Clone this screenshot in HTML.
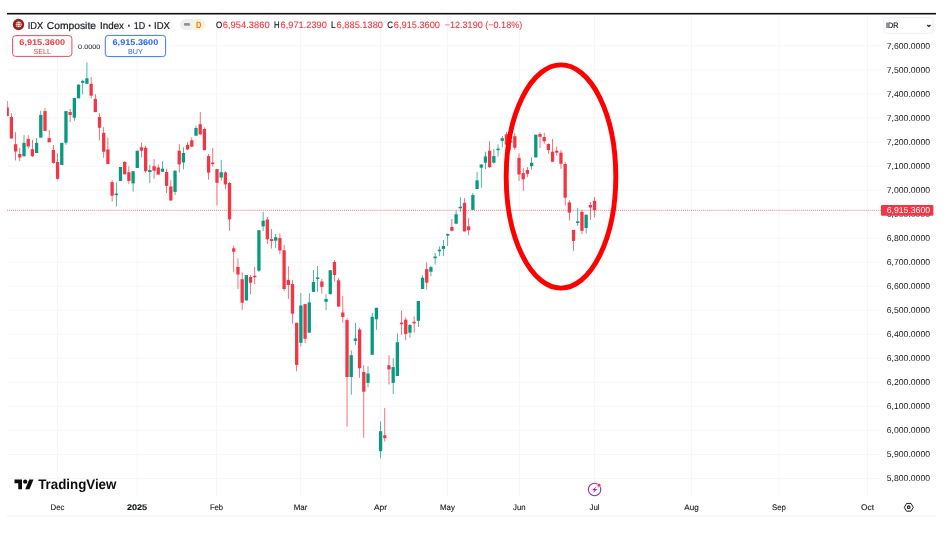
<!DOCTYPE html>
<html lang="en"><head><meta charset="utf-8"><title>IDX Composite Index chart</title>
<style>
html,body{margin:0;padding:0;background:#fff;}
body{width:949px;height:533px;overflow:hidden;position:relative;font-family:"Liberation Sans",sans-serif;color:#131722;}
#chart{position:absolute;left:0;top:0;width:949px;height:533px;}
svg text{font-family:"Liberation Sans",sans-serif;text-rendering:geometricPrecision;}
</style></head><body>
<svg id="chart" width="949" height="533" viewBox="0 0 949 533">

<g stroke="#f6f6f7" stroke-width="1" fill="none">
<line x1="7" x2="880" y1="45.90" y2="45.90"/>
<line x1="7" x2="880" y1="69.93" y2="69.93"/>
<line x1="7" x2="880" y1="93.96" y2="93.96"/>
<line x1="7" x2="880" y1="117.99" y2="117.99"/>
<line x1="7" x2="880" y1="142.02" y2="142.02"/>
<line x1="7" x2="880" y1="166.05" y2="166.05"/>
<line x1="7" x2="880" y1="190.08" y2="190.08"/>
<line x1="7" x2="880" y1="214.11" y2="214.11"/>
<line x1="7" x2="880" y1="238.14" y2="238.14"/>
<line x1="7" x2="880" y1="262.17" y2="262.17"/>
<line x1="7" x2="880" y1="286.20" y2="286.20"/>
<line x1="7" x2="880" y1="310.23" y2="310.23"/>
<line x1="7" x2="880" y1="334.26" y2="334.26"/>
<line x1="7" x2="880" y1="358.29" y2="358.29"/>
<line x1="7" x2="880" y1="382.32" y2="382.32"/>
<line x1="7" x2="880" y1="406.35" y2="406.35"/>
<line x1="7" x2="880" y1="430.38" y2="430.38"/>
<line x1="7" x2="880" y1="454.41" y2="454.41"/>
<line x1="7" x2="880" y1="478.44" y2="478.44"/>
<line x1="57.50" x2="57.50" y1="14.5" y2="497"/>
<line x1="137.00" x2="137.00" y1="14.5" y2="497"/>
<line x1="216.50" x2="216.50" y1="14.5" y2="497"/>
<line x1="300.50" x2="300.50" y1="14.5" y2="497"/>
<line x1="380.50" x2="380.50" y1="14.5" y2="497"/>
<line x1="447.50" x2="447.50" y1="14.5" y2="497"/>
<line x1="519.30" x2="519.30" y1="14.5" y2="497"/>
<line x1="594.50" x2="594.50" y1="14.5" y2="497"/>
<line x1="691.50" x2="691.50" y1="14.5" y2="497"/>
<line x1="779.00" x2="779.00" y1="14.5" y2="497"/>
<line x1="867.60" x2="867.60" y1="14.5" y2="497"/>
</g>
<rect x="7" y="12.9" width="929" height="1.6" fill="#111"/>
<rect x="7" y="515.4" width="929" height="1.3" fill="#f3f3f3"/>
<line x1="7" x2="881" y1="210.3" y2="210.3" stroke="#f23645" stroke-width="1" stroke-dasharray="1 1.03" opacity="0.72"/>
<g clip-path="url(#cp)">
<defs><clipPath id="cp"><rect x="6.9" y="14" width="875" height="490"/></clipPath></defs>
<rect x="6.88" y="101.00" width="0.7" height="15.30" fill="#f23645"/>
<rect x="5.58" y="107.50" width="3.3" height="8.40" fill="#f23645"/>
<rect x="11.07" y="113.20" width="0.7" height="25.30" fill="#f23645"/>
<rect x="9.77" y="117.00" width="3.3" height="21.50" fill="#f23645"/>
<rect x="15.27" y="132.20" width="0.7" height="28.20" fill="#f23645"/>
<rect x="13.97" y="144.20" width="3.3" height="7.30" fill="#f23645"/>
<rect x="19.46" y="148.00" width="0.7" height="13.30" fill="#f23645"/>
<rect x="18.16" y="154.00" width="3.3" height="3.50" fill="#f23645"/>
<rect x="23.66" y="135.10" width="0.7" height="21.70" fill="#089981"/>
<rect x="22.36" y="142.90" width="3.3" height="13.30" fill="#089981"/>
<rect x="27.85" y="135.10" width="0.7" height="13.50" fill="#f23645"/>
<rect x="26.55" y="138.90" width="3.3" height="7.60" fill="#f23645"/>
<rect x="32.05" y="139.80" width="0.7" height="17.00" fill="#f23645"/>
<rect x="30.75" y="149.20" width="3.3" height="7.00" fill="#f23645"/>
<rect x="36.24" y="138.10" width="0.7" height="14.90" fill="#089981"/>
<rect x="34.95" y="142.90" width="3.3" height="10.10" fill="#089981"/>
<rect x="40.44" y="110.70" width="0.7" height="26.90" fill="#089981"/>
<rect x="39.14" y="114.90" width="3.3" height="22.70" fill="#089981"/>
<rect x="44.63" y="108.20" width="0.7" height="22.70" fill="#f23645"/>
<rect x="43.34" y="111.10" width="3.3" height="19.80" fill="#f23645"/>
<rect x="48.83" y="130.00" width="0.7" height="12.30" fill="#f23645"/>
<rect x="47.53" y="138.10" width="3.3" height="4.20" fill="#f23645"/>
<rect x="53.02" y="144.80" width="0.7" height="19.00" fill="#f23645"/>
<rect x="51.73" y="149.90" width="3.3" height="13.00" fill="#f23645"/>
<rect x="57.22" y="153.10" width="0.7" height="26.60" fill="#f23645"/>
<rect x="55.92" y="162.00" width="3.3" height="16.80" fill="#f23645"/>
<rect x="61.41" y="142.90" width="0.7" height="22.10" fill="#089981"/>
<rect x="60.12" y="142.90" width="3.3" height="22.10" fill="#089981"/>
<rect x="65.61" y="111.10" width="0.7" height="33.70" fill="#089981"/>
<rect x="64.31" y="111.10" width="3.3" height="31.60" fill="#089981"/>
<rect x="69.81" y="108.70" width="0.7" height="13.20" fill="#f23645"/>
<rect x="68.50" y="112.00" width="3.3" height="3.00" fill="#f23645"/>
<rect x="74.00" y="97.90" width="0.7" height="22.90" fill="#089981"/>
<rect x="72.70" y="97.90" width="3.3" height="19.80" fill="#089981"/>
<rect x="78.20" y="84.00" width="0.7" height="14.30" fill="#089981"/>
<rect x="76.89" y="84.70" width="3.3" height="13.60" fill="#089981"/>
<rect x="82.39" y="79.60" width="0.7" height="14.80" fill="#089981"/>
<rect x="81.09" y="80.90" width="3.3" height="1.90" fill="#089981"/>
<rect x="86.59" y="62.50" width="0.7" height="21.30" fill="#089981"/>
<rect x="85.28" y="78.30" width="3.3" height="5.50" fill="#089981"/>
<rect x="90.78" y="77.10" width="0.7" height="21.50" fill="#f23645"/>
<rect x="89.48" y="83.80" width="3.3" height="11.90" fill="#f23645"/>
<rect x="94.98" y="94.10" width="0.7" height="18.00" fill="#f23645"/>
<rect x="93.67" y="98.90" width="3.3" height="13.20" fill="#f23645"/>
<rect x="99.17" y="113.20" width="0.7" height="27.20" fill="#f23645"/>
<rect x="97.87" y="117.00" width="3.3" height="10.80" fill="#f23645"/>
<rect x="103.37" y="127.10" width="0.7" height="30.70" fill="#f23645"/>
<rect x="102.06" y="132.90" width="3.3" height="18.80" fill="#f23645"/>
<rect x="107.56" y="137.80" width="0.7" height="26.20" fill="#f23645"/>
<rect x="106.26" y="149.50" width="3.3" height="14.50" fill="#f23645"/>
<rect x="111.76" y="180.20" width="0.7" height="21.50" fill="#f23645"/>
<rect x="110.45" y="182.10" width="3.3" height="13.60" fill="#f23645"/>
<rect x="115.95" y="182.50" width="0.7" height="23.90" fill="#089981"/>
<rect x="114.65" y="193.55" width="3.3" height="1.60" fill="#089981"/>
<rect x="120.15" y="167.00" width="0.7" height="13.90" fill="#089981"/>
<rect x="118.84" y="167.00" width="3.3" height="13.90" fill="#089981"/>
<rect x="124.34" y="161.20" width="0.7" height="13.10" fill="#f23645"/>
<rect x="123.04" y="161.90" width="3.3" height="12.40" fill="#f23645"/>
<rect x="128.53" y="166.20" width="0.7" height="17.60" fill="#f23645"/>
<rect x="127.23" y="172.30" width="3.3" height="8.60" fill="#f23645"/>
<rect x="132.73" y="171.20" width="0.7" height="20.40" fill="#089981"/>
<rect x="131.43" y="171.20" width="3.3" height="12.20" fill="#089981"/>
<rect x="136.93" y="150.70" width="0.7" height="17.30" fill="#089981"/>
<rect x="135.62" y="150.70" width="3.3" height="17.30" fill="#089981"/>
<rect x="141.12" y="142.60" width="0.7" height="14.80" fill="#f23645"/>
<rect x="139.82" y="147.30" width="3.3" height="3.40" fill="#f23645"/>
<rect x="145.31" y="146.00" width="0.7" height="26.50" fill="#f23645"/>
<rect x="144.01" y="147.70" width="3.3" height="23.50" fill="#f23645"/>
<rect x="149.51" y="165.00" width="0.7" height="18.00" fill="#089981"/>
<rect x="148.21" y="170.00" width="3.3" height="2.10" fill="#089981"/>
<rect x="153.71" y="159.10" width="0.7" height="19.60" fill="#f23645"/>
<rect x="152.41" y="166.20" width="3.3" height="4.50" fill="#f23645"/>
<rect x="157.90" y="164.40" width="0.7" height="10.20" fill="#f23645"/>
<rect x="156.60" y="167.50" width="3.3" height="7.10" fill="#f23645"/>
<rect x="162.09" y="161.10" width="0.7" height="10.70" fill="#089981"/>
<rect x="160.79" y="168.70" width="3.3" height="3.10" fill="#089981"/>
<rect x="166.29" y="168.70" width="0.7" height="24.40" fill="#f23645"/>
<rect x="164.99" y="172.00" width="3.3" height="13.90" fill="#f23645"/>
<rect x="170.49" y="180.20" width="0.7" height="20.30" fill="#f23645"/>
<rect x="169.19" y="186.50" width="3.3" height="14.00" fill="#f23645"/>
<rect x="174.68" y="170.00" width="0.7" height="25.10" fill="#089981"/>
<rect x="173.38" y="170.80" width="3.3" height="21.10" fill="#089981"/>
<rect x="178.88" y="144.10" width="0.7" height="28.50" fill="#f23645"/>
<rect x="177.57" y="150.70" width="3.3" height="13.70" fill="#f23645"/>
<rect x="183.07" y="147.30" width="0.7" height="22.10" fill="#089981"/>
<rect x="181.77" y="153.00" width="3.3" height="9.50" fill="#089981"/>
<rect x="187.27" y="141.90" width="0.7" height="8.30" fill="#f23645"/>
<rect x="185.97" y="144.80" width="3.3" height="4.60" fill="#f23645"/>
<rect x="191.46" y="137.20" width="0.7" height="9.50" fill="#f23645"/>
<rect x="190.16" y="140.30" width="3.3" height="6.40" fill="#f23645"/>
<rect x="195.66" y="125.80" width="0.7" height="9.90" fill="#089981"/>
<rect x="194.35" y="128.00" width="3.3" height="7.70" fill="#089981"/>
<rect x="199.85" y="111.90" width="0.7" height="22.50" fill="#f23645"/>
<rect x="198.55" y="124.20" width="3.3" height="10.20" fill="#f23645"/>
<rect x="204.05" y="127.40" width="0.7" height="22.80" fill="#f23645"/>
<rect x="202.75" y="129.00" width="3.3" height="21.20" fill="#f23645"/>
<rect x="208.24" y="154.00" width="0.7" height="25.60" fill="#f23645"/>
<rect x="206.94" y="156.10" width="3.3" height="16.50" fill="#f23645"/>
<rect x="212.44" y="148.00" width="0.7" height="18.70" fill="#f23645"/>
<rect x="211.13" y="162.50" width="3.3" height="1.60" fill="#f23645"/>
<rect x="216.63" y="169.10" width="0.7" height="36.40" fill="#f23645"/>
<rect x="215.33" y="169.10" width="3.3" height="13.70" fill="#f23645"/>
<rect x="220.83" y="159.80" width="0.7" height="20.80" fill="#089981"/>
<rect x="219.53" y="172.20" width="3.3" height="5.40" fill="#089981"/>
<rect x="225.02" y="171.10" width="0.7" height="18.20" fill="#f23645"/>
<rect x="223.72" y="172.40" width="3.3" height="12.00" fill="#f23645"/>
<rect x="229.22" y="182.10" width="0.7" height="48.80" fill="#f23645"/>
<rect x="227.91" y="183.00" width="3.3" height="36.40" fill="#f23645"/>
<rect x="233.41" y="245.40" width="0.7" height="27.00" fill="#f23645"/>
<rect x="232.11" y="248.30" width="3.3" height="3.40" fill="#f23645"/>
<rect x="237.61" y="258.30" width="0.7" height="30.70" fill="#f23645"/>
<rect x="236.31" y="266.90" width="3.3" height="7.60" fill="#f23645"/>
<rect x="241.80" y="272.20" width="0.7" height="37.70" fill="#f23645"/>
<rect x="240.50" y="279.20" width="3.3" height="23.50" fill="#f23645"/>
<rect x="246.00" y="275.10" width="0.7" height="25.70" fill="#089981"/>
<rect x="244.69" y="275.10" width="3.3" height="25.30" fill="#089981"/>
<rect x="250.19" y="274.90" width="0.7" height="19.40" fill="#f23645"/>
<rect x="248.89" y="277.00" width="3.3" height="5.70" fill="#f23645"/>
<rect x="254.39" y="267.00" width="0.7" height="17.00" fill="#f23645"/>
<rect x="253.09" y="275.70" width="3.3" height="1.60" fill="#f23645"/>
<rect x="258.58" y="230.20" width="0.7" height="41.80" fill="#089981"/>
<rect x="257.28" y="230.20" width="3.3" height="40.50" fill="#089981"/>
<rect x="262.77" y="211.90" width="0.7" height="19.00" fill="#089981"/>
<rect x="261.48" y="220.70" width="3.3" height="5.70" fill="#089981"/>
<rect x="266.97" y="217.00" width="0.7" height="27.10" fill="#f23645"/>
<rect x="265.67" y="219.50" width="3.3" height="19.80" fill="#f23645"/>
<rect x="271.17" y="229.00" width="0.7" height="19.60" fill="#f23645"/>
<rect x="269.87" y="239.10" width="3.3" height="1.90" fill="#f23645"/>
<rect x="275.36" y="234.00" width="0.7" height="13.90" fill="#089981"/>
<rect x="274.06" y="237.20" width="3.3" height="3.50" fill="#089981"/>
<rect x="279.56" y="233.40" width="0.7" height="20.80" fill="#f23645"/>
<rect x="278.26" y="238.10" width="3.3" height="12.40" fill="#f23645"/>
<rect x="283.75" y="244.80" width="0.7" height="46.50" fill="#f23645"/>
<rect x="282.45" y="250.20" width="3.3" height="38.80" fill="#f23645"/>
<rect x="287.94" y="266.30" width="0.7" height="32.60" fill="#f23645"/>
<rect x="286.65" y="279.90" width="3.3" height="5.10" fill="#f23645"/>
<rect x="292.14" y="279.90" width="0.7" height="43.80" fill="#f23645"/>
<rect x="290.84" y="284.00" width="3.3" height="29.70" fill="#f23645"/>
<rect x="296.33" y="322.80" width="0.7" height="48.50" fill="#f23645"/>
<rect x="295.04" y="322.80" width="3.3" height="42.10" fill="#f23645"/>
<rect x="300.53" y="293.00" width="0.7" height="53.50" fill="#089981"/>
<rect x="299.23" y="305.50" width="3.3" height="37.30" fill="#089981"/>
<rect x="304.73" y="303.70" width="0.7" height="39.30" fill="#f23645"/>
<rect x="303.43" y="304.10" width="3.3" height="34.70" fill="#f23645"/>
<rect x="308.92" y="293.00" width="0.7" height="39.70" fill="#089981"/>
<rect x="307.62" y="302.40" width="3.3" height="30.30" fill="#089981"/>
<rect x="313.12" y="270.00" width="0.7" height="21.90" fill="#089981"/>
<rect x="311.82" y="282.00" width="3.3" height="9.90" fill="#089981"/>
<rect x="317.31" y="266.00" width="0.7" height="25.60" fill="#089981"/>
<rect x="316.01" y="277.45" width="3.3" height="1.60" fill="#089981"/>
<rect x="321.50" y="279.00" width="0.7" height="14.60" fill="#f23645"/>
<rect x="320.21" y="281.50" width="3.3" height="5.40" fill="#f23645"/>
<rect x="325.70" y="294.20" width="0.7" height="15.80" fill="#089981"/>
<rect x="324.40" y="299.00" width="3.3" height="2.80" fill="#089981"/>
<rect x="329.89" y="270.20" width="0.7" height="24.00" fill="#089981"/>
<rect x="328.60" y="270.20" width="3.3" height="24.00" fill="#089981"/>
<rect x="334.09" y="260.10" width="0.7" height="21.40" fill="#f23645"/>
<rect x="332.79" y="262.00" width="3.3" height="13.00" fill="#f23645"/>
<rect x="338.28" y="278.00" width="0.7" height="28.60" fill="#f23645"/>
<rect x="336.99" y="280.30" width="3.3" height="26.30" fill="#f23645"/>
<rect x="342.48" y="296.10" width="0.7" height="26.70" fill="#f23645"/>
<rect x="341.18" y="312.50" width="3.3" height="4.50" fill="#f23645"/>
<rect x="346.68" y="318.20" width="0.7" height="108.60" fill="#f23645"/>
<rect x="345.38" y="320.10" width="3.3" height="56.90" fill="#f23645"/>
<rect x="350.87" y="350.40" width="0.7" height="44.30" fill="#089981"/>
<rect x="349.57" y="355.20" width="3.3" height="21.80" fill="#089981"/>
<rect x="355.06" y="322.80" width="0.7" height="22.30" fill="#089981"/>
<rect x="353.77" y="338.40" width="3.3" height="2.50" fill="#089981"/>
<rect x="359.26" y="327.60" width="0.7" height="50.20" fill="#f23645"/>
<rect x="357.96" y="329.50" width="3.3" height="38.80" fill="#f23645"/>
<rect x="363.45" y="365.30" width="0.7" height="72.50" fill="#f23645"/>
<rect x="362.16" y="372.00" width="3.3" height="19.70" fill="#f23645"/>
<rect x="367.65" y="366.20" width="0.7" height="20.90" fill="#089981"/>
<rect x="366.35" y="373.50" width="3.3" height="9.40" fill="#089981"/>
<rect x="371.84" y="312.90" width="0.7" height="41.90" fill="#089981"/>
<rect x="370.55" y="316.80" width="3.3" height="38.00" fill="#089981"/>
<rect x="376.04" y="307.80" width="0.7" height="22.10" fill="#089981"/>
<rect x="374.74" y="307.80" width="3.3" height="11.50" fill="#089981"/>
<rect x="380.24" y="421.50" width="0.7" height="36.80" fill="#089981"/>
<rect x="378.94" y="431.20" width="3.3" height="19.90" fill="#089981"/>
<rect x="384.43" y="407.90" width="0.7" height="33.70" fill="#f23645"/>
<rect x="383.13" y="435.30" width="3.3" height="2.80" fill="#f23645"/>
<rect x="388.62" y="355.20" width="0.7" height="29.30" fill="#f23645"/>
<rect x="387.33" y="365.30" width="3.3" height="4.10" fill="#f23645"/>
<rect x="392.82" y="358.20" width="0.7" height="35.80" fill="#089981"/>
<rect x="391.52" y="367.10" width="3.3" height="15.80" fill="#089981"/>
<rect x="397.01" y="333.30" width="0.7" height="42.70" fill="#089981"/>
<rect x="395.72" y="342.20" width="3.3" height="33.80" fill="#089981"/>
<rect x="401.21" y="310.60" width="0.7" height="24.20" fill="#f23645"/>
<rect x="399.91" y="322.65" width="3.3" height="1.60" fill="#f23645"/>
<rect x="405.40" y="317.30" width="0.7" height="23.00" fill="#f23645"/>
<rect x="404.11" y="319.70" width="3.3" height="14.20" fill="#f23645"/>
<rect x="409.60" y="324.00" width="0.7" height="13.80" fill="#089981"/>
<rect x="408.30" y="325.00" width="3.3" height="7.70" fill="#089981"/>
<rect x="413.80" y="316.40" width="0.7" height="16.10" fill="#f23645"/>
<rect x="412.50" y="321.75" width="3.3" height="1.60" fill="#f23645"/>
<rect x="417.99" y="301.00" width="0.7" height="26.10" fill="#089981"/>
<rect x="416.69" y="301.00" width="3.3" height="19.80" fill="#089981"/>
<rect x="422.19" y="275.30" width="0.7" height="13.70" fill="#089981"/>
<rect x="420.89" y="277.70" width="3.3" height="11.30" fill="#089981"/>
<rect x="426.38" y="262.40" width="0.7" height="27.20" fill="#f23645"/>
<rect x="425.08" y="269.10" width="3.3" height="13.50" fill="#f23645"/>
<rect x="430.57" y="265.80" width="0.7" height="10.40" fill="#089981"/>
<rect x="429.28" y="267.10" width="3.3" height="4.60" fill="#089981"/>
<rect x="434.77" y="252.90" width="0.7" height="11.70" fill="#089981"/>
<rect x="433.47" y="256.50" width="3.3" height="1.70" fill="#089981"/>
<rect x="438.96" y="246.40" width="0.7" height="9.70" fill="#089981"/>
<rect x="437.67" y="249.70" width="3.3" height="1.60" fill="#089981"/>
<rect x="443.16" y="240.00" width="0.7" height="16.10" fill="#089981"/>
<rect x="441.86" y="246.00" width="3.3" height="2.90" fill="#089981"/>
<rect x="447.36" y="233.70" width="0.7" height="12.30" fill="#089981"/>
<rect x="446.06" y="233.95" width="3.3" height="1.60" fill="#089981"/>
<rect x="451.55" y="219.00" width="0.7" height="12.40" fill="#f23645"/>
<rect x="450.25" y="227.00" width="3.3" height="3.80" fill="#f23645"/>
<rect x="455.75" y="210.50" width="0.7" height="13.20" fill="#089981"/>
<rect x="454.45" y="214.30" width="3.3" height="9.40" fill="#089981"/>
<rect x="459.94" y="197.20" width="0.7" height="14.60" fill="#089981"/>
<rect x="458.64" y="206.70" width="3.3" height="1.60" fill="#089981"/>
<rect x="464.13" y="198.10" width="0.7" height="33.30" fill="#f23645"/>
<rect x="462.84" y="202.90" width="3.3" height="28.50" fill="#f23645"/>
<rect x="468.33" y="218.10" width="0.7" height="17.10" fill="#f23645"/>
<rect x="467.03" y="226.30" width="3.3" height="3.90" fill="#f23645"/>
<rect x="472.52" y="193.10" width="0.7" height="16.80" fill="#089981"/>
<rect x="471.23" y="195.10" width="3.3" height="14.80" fill="#089981"/>
<rect x="476.72" y="172.00" width="0.7" height="17.00" fill="#089981"/>
<rect x="475.42" y="180.40" width="3.3" height="8.60" fill="#089981"/>
<rect x="480.92" y="164.50" width="0.7" height="23.20" fill="#089981"/>
<rect x="479.62" y="164.50" width="3.3" height="3.20" fill="#089981"/>
<rect x="485.11" y="151.60" width="0.7" height="17.40" fill="#089981"/>
<rect x="483.81" y="156.40" width="3.3" height="6.30" fill="#089981"/>
<rect x="489.31" y="141.30" width="0.7" height="27.00" fill="#f23645"/>
<rect x="488.01" y="150.70" width="3.3" height="16.40" fill="#f23645"/>
<rect x="493.50" y="149.10" width="0.7" height="14.60" fill="#089981"/>
<rect x="492.20" y="156.10" width="3.3" height="6.60" fill="#089981"/>
<rect x="497.69" y="144.30" width="0.7" height="12.40" fill="#089981"/>
<rect x="496.40" y="148.60" width="3.3" height="1.60" fill="#089981"/>
<rect x="501.89" y="136.00" width="0.7" height="11.20" fill="#089981"/>
<rect x="500.59" y="138.10" width="3.3" height="2.80" fill="#089981"/>
<rect x="506.08" y="132.20" width="0.7" height="12.50" fill="#f23645"/>
<rect x="504.79" y="134.30" width="3.3" height="10.40" fill="#f23645"/>
<rect x="510.28" y="140.00" width="0.7" height="10.40" fill="#f23645"/>
<rect x="508.98" y="140.70" width="3.3" height="1.60" fill="#f23645"/>
<rect x="514.48" y="133.00" width="0.7" height="17.00" fill="#f23645"/>
<rect x="513.18" y="136.20" width="3.3" height="11.60" fill="#f23645"/>
<rect x="518.67" y="153.50" width="0.7" height="27.40" fill="#f23645"/>
<rect x="517.37" y="157.90" width="3.3" height="16.50" fill="#f23645"/>
<rect x="522.87" y="168.20" width="0.7" height="22.90" fill="#f23645"/>
<rect x="521.57" y="173.10" width="3.3" height="6.20" fill="#f23645"/>
<rect x="527.06" y="167.10" width="0.7" height="9.80" fill="#f23645"/>
<rect x="525.76" y="170.00" width="3.3" height="3.80" fill="#f23645"/>
<rect x="531.25" y="157.30" width="0.7" height="12.30" fill="#089981"/>
<rect x="529.96" y="162.70" width="3.3" height="3.50" fill="#089981"/>
<rect x="535.45" y="134.70" width="0.7" height="22.70" fill="#089981"/>
<rect x="534.15" y="134.70" width="3.3" height="22.70" fill="#089981"/>
<rect x="539.64" y="132.20" width="0.7" height="15.90" fill="#f23645"/>
<rect x="538.35" y="134.00" width="3.3" height="2.80" fill="#f23645"/>
<rect x="543.84" y="132.70" width="0.7" height="11.10" fill="#f23645"/>
<rect x="542.54" y="137.10" width="3.3" height="4.20" fill="#f23645"/>
<rect x="548.04" y="143.50" width="0.7" height="10.30" fill="#f23645"/>
<rect x="546.74" y="144.00" width="3.3" height="6.10" fill="#f23645"/>
<rect x="552.23" y="139.00" width="0.7" height="22.70" fill="#f23645"/>
<rect x="550.93" y="151.70" width="3.3" height="10.00" fill="#f23645"/>
<rect x="556.43" y="146.50" width="0.7" height="9.10" fill="#f23645"/>
<rect x="555.13" y="150.80" width="3.3" height="1.80" fill="#f23645"/>
<rect x="560.62" y="150.10" width="0.7" height="18.60" fill="#f23645"/>
<rect x="559.32" y="152.70" width="3.3" height="11.10" fill="#f23645"/>
<rect x="564.82" y="162.20" width="0.7" height="43.10" fill="#f23645"/>
<rect x="563.52" y="164.00" width="3.3" height="33.70" fill="#f23645"/>
<rect x="569.01" y="200.20" width="0.7" height="20.20" fill="#f23645"/>
<rect x="567.71" y="202.40" width="3.3" height="10.20" fill="#f23645"/>
<rect x="573.21" y="229.90" width="0.7" height="21.10" fill="#f23645"/>
<rect x="571.91" y="229.90" width="3.3" height="11.00" fill="#f23645"/>
<rect x="577.40" y="207.80" width="0.7" height="17.90" fill="#089981"/>
<rect x="576.10" y="221.35" width="3.3" height="1.60" fill="#089981"/>
<rect x="581.60" y="209.50" width="0.7" height="24.60" fill="#f23645"/>
<rect x="580.30" y="211.90" width="3.3" height="18.90" fill="#f23645"/>
<rect x="585.79" y="214.70" width="0.7" height="19.00" fill="#089981"/>
<rect x="584.49" y="214.70" width="3.3" height="13.30" fill="#089981"/>
<rect x="589.99" y="202.00" width="0.7" height="17.80" fill="#f23645"/>
<rect x="588.69" y="205.00" width="3.3" height="2.50" fill="#f23645"/>
<rect x="594.18" y="196.80" width="0.7" height="20.70" fill="#f23645"/>
<rect x="592.88" y="200.80" width="3.3" height="9.40" fill="#f23645"/>
</g>
<ellipse cx="561" cy="176.5" rx="54.8" ry="111.6" fill="none" stroke="#ff0000" stroke-width="4.9"/>
<g font-size="8.5" fill="#131722">
<text x="886.8" y="48.65" textLength="43.2" lengthAdjust="spacingAndGlyphs">7,600.0000</text>
<text x="886.8" y="72.69" textLength="43.2" lengthAdjust="spacingAndGlyphs">7,500.0000</text>
<text x="886.8" y="96.73" textLength="43.2" lengthAdjust="spacingAndGlyphs">7,400.0000</text>
<text x="886.8" y="120.77" textLength="43.2" lengthAdjust="spacingAndGlyphs">7,300.0000</text>
<text x="886.8" y="144.81" textLength="43.2" lengthAdjust="spacingAndGlyphs">7,200.0000</text>
<text x="886.8" y="168.85" textLength="43.2" lengthAdjust="spacingAndGlyphs">7,100.0000</text>
<text x="886.8" y="192.89" textLength="43.2" lengthAdjust="spacingAndGlyphs">7,000.0000</text>
<text x="886.8" y="216.93" textLength="43.2" lengthAdjust="spacingAndGlyphs">6,900.0000</text>
<text x="886.8" y="240.97" textLength="43.2" lengthAdjust="spacingAndGlyphs">6,800.0000</text>
<text x="886.8" y="265.01" textLength="43.2" lengthAdjust="spacingAndGlyphs">6,700.0000</text>
<text x="886.8" y="289.05" textLength="43.2" lengthAdjust="spacingAndGlyphs">6,600.0000</text>
<text x="886.8" y="313.09" textLength="43.2" lengthAdjust="spacingAndGlyphs">6,500.0000</text>
<text x="886.8" y="337.13" textLength="43.2" lengthAdjust="spacingAndGlyphs">6,400.0000</text>
<text x="886.8" y="361.17" textLength="43.2" lengthAdjust="spacingAndGlyphs">6,300.0000</text>
<text x="886.8" y="385.21" textLength="43.2" lengthAdjust="spacingAndGlyphs">6,200.0000</text>
<text x="886.8" y="409.25" textLength="43.2" lengthAdjust="spacingAndGlyphs">6,100.0000</text>
<text x="886.8" y="433.29" textLength="43.2" lengthAdjust="spacingAndGlyphs">6,000.0000</text>
<text x="886.8" y="457.33" textLength="43.2" lengthAdjust="spacingAndGlyphs">5,900.0000</text>
<text x="886.8" y="481.37" textLength="43.2" lengthAdjust="spacingAndGlyphs">5,800.0000</text>
</g>
<rect x="881" y="205" width="52.4" height="10.8" rx="1" fill="#f23645"/>
<text x="886.8" y="213.3" font-size="8.5" fill="#fff" textLength="43.2" lengthAdjust="spacingAndGlyphs">6,915.3600</text>
<g font-size="8.1" fill="#131722" stroke="#131722" stroke-width="0.12">
<text x="50.55" y="510.2" textLength="13.9" lengthAdjust="spacingAndGlyphs">Dec</text>
<text x="126.90" y="510.2" font-weight="bold" textLength="20.2" lengthAdjust="spacingAndGlyphs">2025</text>
<text x="209.90" y="510.2" textLength="13.2" lengthAdjust="spacingAndGlyphs">Feb</text>
<text x="293.65" y="510.2" textLength="13.7" lengthAdjust="spacingAndGlyphs">Mar</text>
<text x="373.95" y="510.2" textLength="13.1" lengthAdjust="spacingAndGlyphs">Apr</text>
<text x="440.10" y="510.2" textLength="14.8" lengthAdjust="spacingAndGlyphs">May</text>
<text x="513.00" y="510.2" textLength="12.6" lengthAdjust="spacingAndGlyphs">Jun</text>
<text x="589.45" y="510.2" textLength="10.1" lengthAdjust="spacingAndGlyphs">Jul</text>
<text x="684.30" y="510.2" textLength="14.4" lengthAdjust="spacingAndGlyphs">Aug</text>
<text x="772.00" y="510.2" textLength="14.0" lengthAdjust="spacingAndGlyphs">Sep</text>
<text x="861.10" y="510.2" textLength="13.0" lengthAdjust="spacingAndGlyphs">Oct</text>
</g>
<rect x="883.7" y="17.7" width="49.5" height="15.5" rx="2" fill="#fff" stroke="#ececec" stroke-width="0.8"/>
<text x="885.9" y="28.1" font-size="8" fill="#131722" stroke="#131722" stroke-width="0.2" textLength="12.5" lengthAdjust="spacingAndGlyphs">IDR</text>
<path d="M927.3 25 l1.6 1.5 l1.6 -1.5" fill="none" stroke="#131722" stroke-width="1.2"/>
<g fill="none" stroke="#1c1c1f" stroke-linejoin="round"><path d="M904.3 507.3 l2.3 -3.9 h4.4 l2.3 3.9 l-2.3 3.9 h-4.4 z" stroke-width="1"/><circle cx="908.7" cy="507.2" r="1.3" stroke-width="1.2"/></g>
<g><circle cx="594.6" cy="489.5" r="6.2" fill="#fff" stroke="#9c27b0" stroke-width="1.1"/><path d="M596.7 486.2 L591.9 490.3 h2.7 L592.9 492.9 L597.5 488.9 h-2.7 z" fill="#9c27b0"/><circle cx="599" cy="485.2" r="2" fill="#f23645" stroke="#fff" stroke-width="0.7"/></g>
<g transform="translate(14.5,477.4) scale(0.535)" fill="#0c0c0e"><path d="M14 22H7V11H0V4h14v18zM28 22h-8l7.5-18h8L28 22z"/><circle cx="20" cy="8" r="4"/></g>
<text x="38.2" y="489.1" font-size="14" font-weight="bold" fill="#0c0c0e" textLength="78.2" lengthAdjust="spacingAndGlyphs">TradingView</text>
<circle cx="18.5" cy="24.5" r="5.65" fill="#962222"/>
<circle cx="18.7" cy="24.4" r="2.9" fill="#fbeaea"/>
<g fill="none" stroke="#a63a3a" stroke-width="0.55"><path d="M16 23.5h5.4M16 25.4h5.4M17.8 21.7c-1 1.7-1 3.8 0 5.5M19.7 21.7c1 1.7 1 3.8 0 5.5"/></g>
<text y="28.55" font-size="10" fill="#131722" stroke="#131722" stroke-width="0.2"><tspan x="27.7" textLength="15.4" lengthAdjust="spacingAndGlyphs">IDX</tspan> <tspan x="46.8" textLength="49.2" lengthAdjust="spacingAndGlyphs">Composite</tspan> <tspan x="100" textLength="24" lengthAdjust="spacingAndGlyphs">Index</tspan> <tspan x="127.4" font-weight="bold">·</tspan> <tspan x="133.7" textLength="11.4" lengthAdjust="spacingAndGlyphs">1D</tspan> <tspan x="148.2" font-weight="bold">·</tspan> <tspan x="154" textLength="15.8" lengthAdjust="spacingAndGlyphs">IDX</tspan></text>
<path d="M185.45 19.1 h7.35 v10.9 h-7.35 a5.45 5.45 0 0 1 0 -10.9z" fill="#efefef"/>
<path d="M192.8 19.1 h7.55 a5.45 5.45 0 0 1 0 10.9 h-7.55z" fill="#fff1df"/>
<rect x="183.9" y="23.1" width="6.2" height="2.7" rx="1.2" fill="#929292"/>
<text x="196" y="27.9" font-size="9.2" font-weight="bold" fill="#f57c00" textLength="5.4" lengthAdjust="spacingAndGlyphs">D</text>
<text x="215.9" y="28.3" font-size="9.3" fill="#131722" stroke="#131722" stroke-width="0.2" textLength="6.2" lengthAdjust="spacingAndGlyphs">O</text>
<text x="222.8" y="28.3" font-size="9.4" fill="#f23645" stroke="#f23645" stroke-width="0.1" textLength="46.8" lengthAdjust="spacingAndGlyphs">6,954.3860</text>
<text x="274.1" y="28.3" font-size="9.3" fill="#131722" stroke="#131722" stroke-width="0.2" textLength="5.6" lengthAdjust="spacingAndGlyphs">H</text>
<text x="280.6" y="28.3" font-size="9.4" fill="#f23645" stroke="#f23645" stroke-width="0.1" textLength="46.2" lengthAdjust="spacingAndGlyphs">6,971.2390</text>
<text x="331" y="28.3" font-size="9.3" fill="#131722" stroke="#131722" stroke-width="0.2" textLength="4.6" lengthAdjust="spacingAndGlyphs">L</text>
<text x="336.6" y="28.3" font-size="9.4" fill="#f23645" stroke="#f23645" stroke-width="0.1" textLength="46.4" lengthAdjust="spacingAndGlyphs">6,885.1380</text>
<text x="387.3" y="28.3" font-size="9.3" fill="#131722" stroke="#131722" stroke-width="0.2" textLength="5.7" lengthAdjust="spacingAndGlyphs">C</text>
<text x="393.8" y="28.3" font-size="9.4" fill="#f23645" stroke="#f23645" stroke-width="0.1" textLength="46.2" lengthAdjust="spacingAndGlyphs">6,915.3600</text>
<text x="444.7" y="28.3" font-size="9.4" fill="#f23645" stroke="#f23645" stroke-width="0.1" textLength="77.6" lengthAdjust="spacingAndGlyphs">−12.3190 (−0.18%)</text>
<rect x="12.6" y="35.6" width="59.3" height="20.8" rx="3" fill="#fff" stroke="#f23645" stroke-width="0.9"/>
<text x="42.2" y="45.0" font-size="8.4" font-weight="bold" fill="#f23645" text-anchor="middle" textLength="45.7" lengthAdjust="spacingAndGlyphs">6,915.3600</text>
<text x="42.2" y="53.8" font-size="7.2" fill="#f23645" text-anchor="middle">SELL</text>
<text x="89.2" y="48.6" font-size="6.6" fill="#131722" text-anchor="middle" textLength="22.2" lengthAdjust="spacingAndGlyphs">0.0000</text>
<rect x="105.3" y="35.4" width="60.3" height="21.2" rx="3" fill="#fff" stroke="#2962ff" stroke-width="0.9"/>
<text x="135.4" y="45.0" font-size="8.4" font-weight="bold" fill="#2962ff" text-anchor="middle" textLength="45.7" lengthAdjust="spacingAndGlyphs">6,915.3600</text>
<text x="135.4" y="53.8" font-size="7.2" fill="#2962ff" text-anchor="middle">BUY</text>
</svg>
</body></html>
